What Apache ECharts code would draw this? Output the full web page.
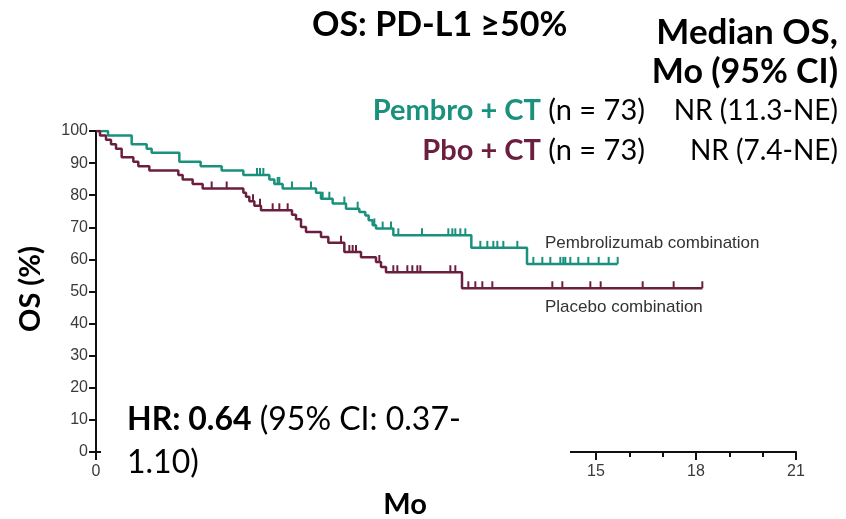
<!DOCTYPE html>
<html>
<head>
<meta charset="utf-8">
<script src="https://cdn.jsdelivr.net/npm/echarts@6/dist/echarts.min.js"></script>
<style>
  html, body { margin: 0; padding: 0; background: #fff; }
  #chart { width: 846px; height: 519px; }
</style>
</head>
<body>
<div id="chart"></div>
<script>
// Kaplan-Meier overall survival, PD-L1 >= 50% subgroup
const PEMBRO_COLOR = '#19917c';
const PBO_COLOR = '#6b1f3f';

// Event steps: [month, survival %]
const pembroSteps = [
  [0, 100], [0.36, 98.6], [1.07, 95.9], [1.52, 94.5], [1.67, 93.2], [2.5, 90.4],
  [3.14, 89.0], [3.77, 87.7], [4.42, 86.3], [5.2, 84.9], [5.35, 83.5], [5.6, 82.1],
  [6.6, 80.8], [6.75, 78.9], [7.1, 77.4], [7.5, 75.8], [7.9, 74.8], [8.08, 73.7],
  [8.18, 72.2], [8.3, 70.6], [8.4, 69.6], [8.92, 67.5], [11.26, 63.6], [12.93, 58.6]
];
const pembroEnd = 15.65;
const pembroCensor = [
  4.83, 4.92, 5.02, 5.45, 5.5, 5.88, 6.45, 6.8, 7.0, 7.45, 7.85, 8.35, 8.6, 8.85,
  9.07, 9.78, 10.57, 10.69, 10.78, 10.93, 11.08, 11.53, 11.74, 11.92, 12.04, 12.22,
  12.64, 13.12, 13.39, 13.63, 13.93, 14.02, 14.08, 14.23, 14.47, 14.77, 15.08, 15.38, 15.65
];

const pboSteps = [
  [0, 100], [0.12, 98.6], [0.3, 97.3], [0.45, 95.9], [0.6, 94.5], [0.77, 91.8],
  [1.12, 90.4], [1.27, 89.0], [1.6, 87.7], [2.47, 86.3], [2.6, 84.9], [2.9, 83.5],
  [3.2, 82.1], [4.42, 80.8], [4.5, 79.5], [4.6, 78.1], [4.75, 76.7], [4.95, 75.3],
  [5.88, 73.9], [6.0, 72.5], [6.15, 70.1], [6.3, 68.5], [6.75, 67.0], [6.97, 65.2],
  [7.45, 62.3], [7.95, 60.7], [8.4, 59.2], [8.55, 57.6], [8.7, 56.0], [10.98, 51.0]
];
const pboEnd = 18.19;
const pboCensor = [
  3.47, 3.92, 4.71, 4.92, 5.3, 5.5, 5.75, 7.35, 7.6, 7.7, 7.8, 8.5,
  8.92, 9.04, 9.34, 9.49, 9.64, 9.73, 10.63, 10.78,
  11.17, 11.38, 11.59, 11.89, 13.69, 13.99, 14.83, 15.14, 16.40, 17.33, 18.19
];

const xTicks = [0, 3, 6, 9, 12, 15, 18, 21];
const yTicks = [0, 10, 20, 30, 40, 50, 60, 70, 80, 90, 100];

function withEnd(steps, end) {
  return steps.concat([[end, steps[steps.length - 1][1]]]);
}
function survivalAt(steps, t) {
  let s = steps[0][1];
  for (const p of steps) { if (p[0] <= t) s = p[1]; }
  return s;
}
function censorData(steps, times) {
  return times.map(t => [t, survivalAt(steps, t)]);
}
function tickRenderer(color) {
  return function (params, api) {
    const p = api.coord([api.value(0), api.value(1)]);
    return {
      type: 'line',
      shape: { x1: p[0], y1: p[1], x2: p[0], y2: p[1] - 7 },
      style: { stroke: color, lineWidth: 2 }
    };
  };
}

const axisFont = { fontFamily: 'Liberation Sans, Arial, sans-serif', fontSize: 16, color: '#3a3a3a' };
const uiFont = 'Lato, "Open Sans", sans-serif';
const labelFont = '17px Liberation Sans, Arial, sans-serif';

const chart = echarts.init(document.getElementById('chart'), null, { renderer: 'canvas' });
chart.setOption({
  backgroundColor: '#fff',
  animation: false,
  grid: { left: 96, top: 131, right: 50, bottom: 67, containLabel: false },
  xAxis: {
    type: 'value', min: 0, max: 21, interval: 3,
    axisLine: { lineStyle: { color: '#111', width: 2 } },
    axisTick: { length: 8, lineStyle: { color: '#111', width: 2 } },
    minorTick: { show: true, splitNumber: 3, length: 5, lineStyle: { color: '#111', width: 2 } },
    splitLine: { show: false },
    axisLabel: Object.assign({ margin: 12, formatter: v => xTicks.includes(v) ? String(v) : '' }, axisFont)
  },
  yAxis: {
    type: 'value', min: 0, max: 100, interval: 10,
    axisLine: { show: true, lineStyle: { color: '#111', width: 2 } },
    axisTick: { show: true, length: 7, lineStyle: { color: '#111', width: 2 } },
    splitLine: { show: false },
    axisLabel: Object.assign({ margin: 8, formatter: v => yTicks.includes(v) ? String(v) : '' }, axisFont)
  },
  series: [
    {
      name: 'Pembrolizumab combination', type: 'line', step: 'end', symbol: 'none',
      data: withEnd(pembroSteps, pembroEnd),
      lineStyle: { color: PEMBRO_COLOR, width: 2.5 }, z: 3
    },
    {
      name: 'Placebo combination', type: 'line', step: 'end', symbol: 'none',
      data: withEnd(pboSteps, pboEnd),
      lineStyle: { color: PBO_COLOR, width: 2.5 }, z: 3
    },
    {
      type: 'custom', renderItem: tickRenderer(PEMBRO_COLOR),
      data: censorData(pembroSteps, pembroCensor), z: 4
    },
    {
      type: 'custom', renderItem: tickRenderer(PBO_COLOR),
      data: censorData(pboSteps, pboCensor), z: 4
    }
  ],
  graphic: [
    // text box for the hazard ratio, sitting over the lower x axis
    { type: 'rect', left: 101, top: 396, shape: { width: 469, height: 100 }, style: { fill: '#fff' }, z: 50 },
    {
      type: 'text', x: 127, y: 420, z: 51,
      style: {
        text: '{b|HR: 0.64} (95% CI: 0.37-', font: '32px ' + uiFont, fill: '#000', textVerticalAlign: 'middle',
        rich: { b: { font: 'bold 32px ' + uiFont, fill: '#000' } }
      }
    },
    { type: 'text', x: 127, y: 463, z: 51,
      style: { text: '1.10)', font: '32px ' + uiFont, fill: '#000', textVerticalAlign: 'middle' } },
    { type: 'text', x: 312, y: 25, z: 51,
      style: { text: 'OS: PD-L1 ≥50%', font: 'bold 34px ' + uiFont, fill: '#000', textVerticalAlign: 'middle' } },
    { type: 'text', x: 838, y: 33, z: 51,
      style: { text: 'Median OS,', font: 'bold 35px ' + uiFont, fill: '#000', textAlign: 'right', textVerticalAlign: 'middle' } },
    { type: 'text', x: 838, y: 72, z: 51,
      style: { text: 'Mo (95% CI)', font: 'bold 34px ' + uiFont, fill: '#000', textAlign: 'right', textVerticalAlign: 'middle' } },
    { type: 'text', x: 645, y: 111, z: 51,
      style: {
        text: '{p|Pembro + CT} (n = 73)', font: '29px ' + uiFont, fill: '#000', textAlign: 'right', textVerticalAlign: 'middle',
        rich: { p: { font: 'bold 29px ' + uiFont, fill: PEMBRO_COLOR } }
      } },
    { type: 'text', x: 838, y: 111, z: 51,
      style: { text: 'NR (11.3-NE)', font: '28px ' + uiFont, fill: '#000', textAlign: 'right', textVerticalAlign: 'middle' } },
    { type: 'text', x: 645, y: 151, z: 51,
      style: {
        text: '{p|Pbo + CT} (n = 73)', font: '29px ' + uiFont, fill: '#000', textAlign: 'right', textVerticalAlign: 'middle',
        rich: { p: { font: 'bold 29px ' + uiFont, fill: PBO_COLOR } }
      } },
    { type: 'text', x: 838, y: 151, z: 51,
      style: { text: 'NR (7.4-NE)', font: '28px ' + uiFont, fill: '#000', textAlign: 'right', textVerticalAlign: 'middle' } },
    { type: 'text', x: 31, y: 289, rotation: Math.PI / 2, z: 51,
      style: { text: 'OS (%)', font: 'bold 29px ' + uiFont, fill: '#000', textAlign: 'center', textVerticalAlign: 'middle' } },
    { type: 'text', x: 405, y: 505, z: 51,
      style: { text: 'Mo', font: 'bold 29px ' + uiFont, fill: '#000', textAlign: 'center', textVerticalAlign: 'middle' } },
    { type: 'text', x: 545, y: 243, z: 51,
      style: { text: 'Pembrolizumab combination', font: labelFont, fill: '#333', textVerticalAlign: 'middle' } },
    { type: 'text', x: 545, y: 307, z: 51,
      style: { text: 'Placebo combination', font: labelFont, fill: '#333', textVerticalAlign: 'middle' } }
  ]
});
</script>
</body>
</html>
